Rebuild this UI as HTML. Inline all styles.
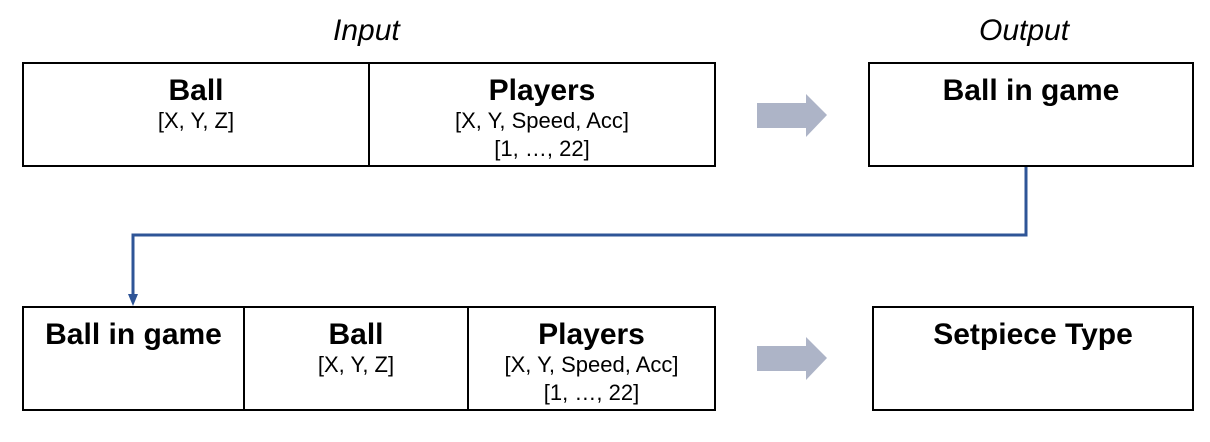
<!DOCTYPE html>
<html><head><meta charset="utf-8"><style>
body{margin:0;width:1210px;height:442px;background:#fff;font-family:"Liberation Sans",Arial,sans-serif;position:relative;overflow:hidden}
.b{position:absolute;border:2px solid #000;box-sizing:border-box;text-align:center}
.t{font-weight:bold;font-size:30px;margin-top:11px;line-height:32px;white-space:nowrap}
.s{font-size:22px;line-height:28px;white-space:nowrap}
.l{position:absolute;font-style:italic;font-size:30px;top:14px}
</style></head><body>
<div class="l" style="left:333px">Input</div>
<div class="l" style="left:979px">Output</div>
<div class="b" style="left:22px;top:62px;width:348px;height:105px"><div class="t">Ball</div><div class="s">[X, Y, Z]</div></div>
<div class="b" style="left:368px;top:62px;width:348px;height:105px"><div class="t">Players</div><div class="s">[X, Y, Speed, Acc]<br>[1, …, 22]</div></div>
<div class="b" style="left:868px;top:62px;width:326px;height:105px"><div class="t">Ball in game</div></div>
<div class="b" style="left:22px;top:306px;width:223px;height:105px"><div class="t">Ball in game</div></div>
<div class="b" style="left:243px;top:306px;width:226px;height:105px"><div class="t">Ball</div><div class="s">[X, Y, Z]</div></div>
<div class="b" style="left:467px;top:306px;width:249px;height:105px"><div class="t">Players</div><div class="s">[X, Y, Speed, Acc]<br>[1, …, 22]</div></div>
<div class="b" style="left:872px;top:306px;width:322px;height:105px"><div class="t">Setpiece Type</div></div>
<svg width="1210" height="442" style="position:absolute;left:0;top:0">
<polygon points="757,103 806,103 806,94 827,115 806,137 806,128 757,128" fill="#adb4c7"/>
<polygon points="757,346 806,346 806,337 827,358 806,380 806,371 757,371" fill="#adb4c7"/>
<polyline points="1026,167 1026,235 133,235 133,296" fill="none" stroke="#2f5597" stroke-width="3"/>
<polygon points="128,294 138,294 133,306" fill="#2f5597"/>
</svg>
</body></html>
